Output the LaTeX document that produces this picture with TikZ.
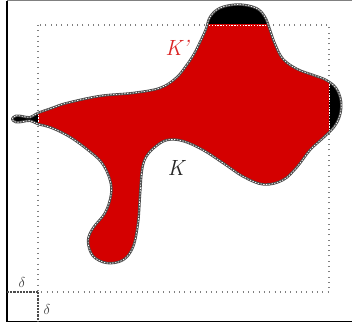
\documentclass[tikz,border=0pt]{standalone}
\usepackage{xcolor}
\usetikzlibrary{positioning}
\definecolor{kred}{RGB}{212,0,0}

\begin{document}
\begin{tikzpicture}[
  x=1pt, y=-1pt,
  frame/.style={draw=black, line width=1.2pt},
  boxline/.style={draw=gray, line width=1.1pt, dash pattern=on 1pt off 4.3pt},
  deltaline/.style={draw=black!70, line width=1.4pt, dash pattern=on 2.2pt off 1pt},
  outline/.style={draw=black!70, line width=2.4pt, line join=round},
  seam/.style={draw=white, line width=0.7pt, dash pattern=on 1.4pt off 1.4pt},
  setlabel/.style={font=\fontsize{22}{24}\selectfont\itshape},
  dlabel/.style={font=\fontsize{13.5}{15}\selectfont, text=black!75}
]

\def\boxL{38}   % x of left side of the box
\def\boxR{329}  % x of right side of the box
\def\boxT{25}   % y of top side of the box
\def\boxB{292}  % y of bottom side of the box

% the set K
\def\shapeK{plot[smooth cycle, tension=0.6] coordinates {
  (12,119) (16,115.8) (22,116.2) (30,117.3) (38,113) (52,108) (67,103)
  (100,96) (133,93) (160,88) (176,78) (186,66) (194,54) (201,40)
  (206,29) (210,17) (220,8) (238,4.5) (256,8) (265,17) (270,30)
  (275,44) (283,59) (297,69) (313,75) (326,80) (336,88) (341,101)
  (340,115) (334,127) (323,138) (310,150) (297,167) (283,180)
  (264,184.5) (244,177) (223,163) (203,150) (183,141) (167,140)
  (155,147) (146,157) (142,170) (140,195) (138,223) (133,247)
  (123,260) (107,263) (93,256) (88,241) (93,228) (105,213) (111,195)
  (110,180) (102,163) (88,150) (70,137) (52,128) (38,124) (30,120.7)
  (22,121.8) (16,122.2)}}

\useasboundingbox (0,0) rectangle (352,326);

% --- frame ---
\coordinate (frNW) at (7,0.6);
\coordinate (frNE) at (352,0.6);
\coordinate (frSW) at (7,321.5);
\coordinate (frSE) at (352,321.5);
\draw[frame, draw=gray, line width=1pt] (frNW) -- (frNE);
\draw[frame] (frNW) -- (frSW) -- (frSE);

% --- box ---
\coordinate (sqNW) at (\boxL,\boxT);
\coordinate (sqSE) at (\boxR,\boxB);
\coordinate (sqSW) at (\boxL,\boxB);
\coordinate (dW) at (7,\boxB);
\coordinate (dS) at (\boxL,321.5);
\draw[boxline] (sqNW) rectangle (sqSE);

% --- delta margins ---
\draw[deltaline] (dW) -- (sqSW);
\draw[deltaline] (sqSW) -- (dS);
\node[dlabel] (d1) at (22,282) {$\delta$};
\node[dlabel] (d2) at (47,309) {$\delta$};

% --- K and K' ---
\fill[black] \shapeK;
\begin{scope}
  \clip (sqNW) rectangle (sqSE);
  \fill[kred] \shapeK;
\end{scope}
\begin{scope}
  \clip \shapeK;
  \draw[seam] (sqNW) rectangle (sqSE);
\end{scope}
\draw[outline] \shapeK;
\draw[seam] \shapeK;

% --- labels ---
\node[setlabel, text=kred!85] (Kp) at (177,48) {K'};
\node[setlabel, text=black!85] (K) at (176,168) {K};

\end{tikzpicture}
\end{document}
